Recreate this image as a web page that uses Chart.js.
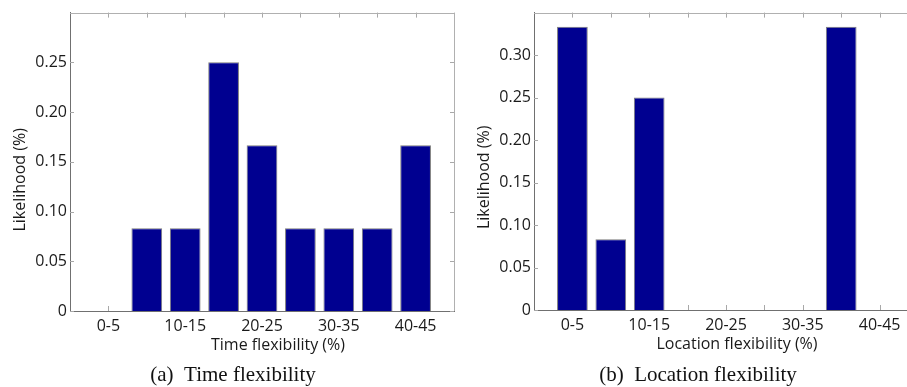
<!DOCTYPE html>
<html>
<head>
<meta charset="utf-8">
<script src="https://cdn.jsdelivr.net/npm/chart.js@4.4.1/dist/chart.umd.min.js"></script>
<style>
  html, body { margin:0; padding:0; background:#fff; width:907px; height:387px; overflow:hidden; }
  #wrap { position:relative; width:907px; height:387px; overflow:hidden; }
  canvas { position:absolute; top:0; }
  #c1 { left:0; }
  #c2 { left:470px; }
  .cap { position:absolute; top:362px; font-family:'Liberation Serif','Times New Roman',serif; font-size:21px; line-height:24px; color:#111; white-space:nowrap; transform:translateX(-50%); }
</style>
</head>
<body>
<div id="wrap">
  <canvas id="c1" width="470" height="387"></canvas>
  <canvas id="c2" width="460" height="387"></canvas>
  <div class="cap" style="left:233px">(a)&nbsp;&nbsp;Time flexibility</div>
  <div class="cap" style="left:698px">(b)&nbsp;&nbsp;Location flexibility</div>
</div>
<script>
// ---- data ----
const categories = ['0-5','5-10','10-15','15-20','20-25','25-30','30-35','35-40','40-45'];
const timeLikelihood = [0, 0.0833, 0.0833, 0.25, 0.1667, 0.0833, 0.0833, 0.0833, 0.1667];
const locationLikelihood = [0.3333, 0.0833, 0.25, 0, 0, 0, 0, 0.3333, 0];
const timeYMax = 0.30;
const locationYMax = 0.35;
const yStep = 0.05;
const yTitle = 'Likelihood (%)';
const timeXTitle = 'Time flexibility (%)';
const locationXTitle = 'Location flexibility (%)';

Chart.defaults.font.family = "'Open Sans', 'DejaVu Sans', sans-serif";
Chart.defaults.font.size = 16;
Chart.defaults.color = '#1a1a1a';

const frame = {
  id: 'frame',
  beforeDatasetsDraw(chart) {
    const {ctx, chartArea:a, scales:{x, y}} = chart;
    ctx.save();
    ctx.strokeStyle = '#a8a8a8';
    ctx.lineWidth = 1;
    ctx.beginPath();
    for (let i = 1; i <= categories.length; i++) {
      const px = Math.round(x.getPixelForValue(i)) + 0.5;
      ctx.moveTo(px, a.bottom); ctx.lineTo(px, a.bottom - 5);
      ctx.moveTo(px, a.top); ctx.lineTo(px, a.top + 5);
    }
    y.ticks.forEach(t => {
      const py = Math.round(y.getPixelForValue(t.value)) + 0.5;
      ctx.moveTo(a.left, py); ctx.lineTo(a.left + 4, py);
      ctx.moveTo(a.right, py); ctx.lineTo(a.right - 4, py);
    });
    ctx.stroke();
    ctx.restore();
  },
  afterDatasetsDraw(chart) {
    const {ctx, chartArea:a} = chart;
    ctx.save();
    ctx.strokeStyle = '#b0b0b0';
    ctx.lineWidth = 1;
    ctx.beginPath();
    ctx.moveTo(a.left, Math.round(a.top) + 0.5); ctx.lineTo(a.right, Math.round(a.top) + 0.5);
    ctx.moveTo(Math.round(a.right) + 0.5, a.top); ctx.lineTo(Math.round(a.right) + 0.5, a.bottom);
    ctx.stroke();
    ctx.restore();
  },
  afterDraw(chart, args, opts) {
    const {ctx, chartArea:a} = chart;
    ctx.save();
    ctx.fillStyle = '#1a1a1a';
    ctx.font = "16px 'Open Sans', 'DejaVu Sans', sans-serif";
    ctx.textAlign = 'center';
    ctx.textBaseline = 'middle';
    ctx.fillText(opts.xTitle, a.left + opts.xTitleDx, a.bottom + 34);
    ctx.translate(a.left - 50, (a.top + a.bottom) / 2 + opts.yTitleDy);
    ctx.rotate(-Math.PI / 2);
    ctx.fillText(opts.yTitle, 0, 0);
    ctx.restore();
  }
};

function makeChart(id, values, yMax, xTitle, geom) {
  return new Chart(document.getElementById(id), {
    type: 'bar',
    data: {
      datasets: [{
        data: values.map((v, i) => ({x: i + 1, y: v})),
        backgroundColor: '#000090',
        borderColor: '#7c7c7c',
        borderWidth: 1,
        barPercentage: 0.8,
        categoryPercentage: 1.0
      }]
    },
    options: {
      responsive: false,
      animation: false,
      layout: { padding: { top: 8, right: geom.right, left: 0, bottom: 0 } },
      plugins: {
        legend: { display: false },
        tooltip: { enabled: false },
        frame: { xTitle: xTitle, yTitle: yTitle, xTitleDx: geom.xTitleDx, yTitleDy: geom.yTitleDy }
      },
      scales: {
        x: {
          type: 'linear',
          offset: false,
          min: 0, max: categories.length + 1,
          grid: { display: false, drawTicks: false, offset: false },
          border: { display: true, color: '#707070', width: 1 },
          ticks: {
            stepSize: 1, autoSkip: false, maxRotation: 0, padding: 6,
            callback: v => (Number.isInteger(v) && v >= 1 && v <= categories.length && (v - 1) % 2 === 0) ? categories[v - 1] : ''
          },
          afterFit: s => { s.height = geom.xh; }
        },
        y: {
          min: 0, max: yMax,
          grid: { display: false, drawTicks: false },
          border: { display: true, color: '#707070', width: 1 },
          ticks: {
            stepSize: yStep, padding: 3,
            callback: v => Math.abs(v - yMax) < 1e-9 ? '' : (v === 0 ? '0' : v.toFixed(2))
          },
          afterFit: s => { s.width = geom.yw; }
        }
      }
    },
    plugins: [frame]
  });
}

makeChart('c1', timeLikelihood, timeYMax, timeXTitle, {right: 16, xh: 76, yw: 70, xTitleDx: 208, yTitleDy: 18});
makeChart('c2', locationLikelihood, locationYMax, locationXTitle, {right: 12, xh: 77, yw: 64, xTitleDx: 203, yTitleDy: 16});
</script>
</body>
</html>
